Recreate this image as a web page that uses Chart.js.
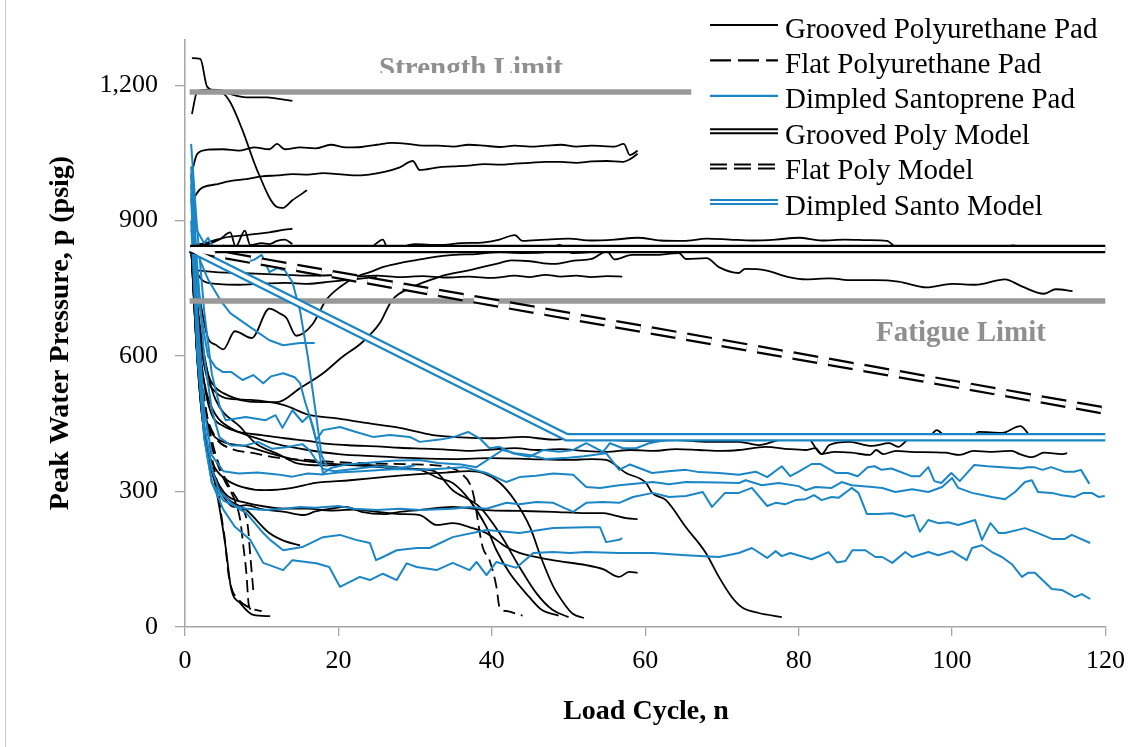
<!DOCTYPE html>
<html>
<head>
<meta charset="utf-8">
<script src="https://cdn.jsdelivr.net/npm/chart.js@4.4.1/dist/chart.umd.min.js"></script>
<style>
  body { margin: 0; background: #fff; }
  canvas { display: block; }
</style>
</head>
<body>
<canvas id="chart" width="1135" height="747"></canvas>
<script>
// Tick labels
const xTicks = [0, 20, 40, 60, 80, 100, 120];
const yTicks = [0, 300, 600, 900, 1200];

const legendLabels = ['Grooved Polyurethane Pad', 'Flat Polyurethane Pad', 'Dimpled Santoprene Pad',
                      'Grooved Poly Model', 'Flat Poly Model', 'Dimpled Santo Model'];

// Reference limits and models  [cycle, psig]
const strengthLimit = [[0.6, 1185], [66, 1185]];
const fatigueLimit = [[0.6, 722], [120, 722]];
const groovedModel = [[0.7, 837], [120, 837]];
const flatModel = [[0.7, 837], [120, 479]];
const santoModel = [[0.7, 837], [49.8, 420], [120, 420]];

// Grooved polyurethane pad tests
const grooved01 = [[0.9,1260],[2,1258],[2.9,1196],[4.9,1182],[5.9,1162],[7.5,1100],[9.4,1012],[12,930],[12.7,928],[14,945],[15.9,967]];
const grooved02 = [[0.9,1136],[1.6,1186],[3,1190],[4.6,1189],[6,1180],[8,1173],[10.7,1173],[12,1170],[14,1165]];
const grooved03 = [[0.8,1000],[1.6,1048],[3,1057],[5,1058],[7,1055],[9,1062],[11,1058],[12,1070],[13,1058],[15,1062],[17,1060],[19,1068],[21,1062],[23,1063],[25,1068],[27,1072],[29,1070],[31,1066],[33,1066],[35,1064],[37,1068],[39,1066],[41,1063],[43,1066],[45,1064],[47,1066],[49,1068],[51,1064],[53,1066],[56,1064],[57.2,1070],[58,1045],[59,1055]];
const grooved04 = [[0.8,940],[2,970],[4,980],[6,988],[8,992],[10,998],[12,1000],[14,1003],[16,1002],[18,1005],[20,1003],[22,1000],[24,1002],[26,1008],[28,1018],[29.7,1032],[30.6,1012],[33,1018],[35,1020],[37,1022],[39,1025],[41,1024],[43,1026],[45,1028],[47,1030],[49,1030],[51,1028],[53,1031],[55,1032],[57,1030],[58,1036],[59,1048]];
const grooved05 = [[1,845],[3,852],[5,862],[7,866],[9,870],[11,874],[13,880],[14,882]];
const grooved06 = [[1.5,845],[3,848],[4.5,858],[5.9,874],[6.6,842],[7.8,878],[8.5,846],[10,850],[11,848],[12,855],[13,858],[14,848]];
const grooved07 = [[0.8,845],[3,838],[6,836],[9,834],[12,836],[15,838],[18,840],[21,842],[24,840],[25.8,858],[26.5,835],[30,848],[33,846],[36,850],[39,852],[41,858],[43,868],[44,855],[47,858],[50,860],[53,856],[56,858],[59,862],[62,856],[65,855],[68,860],[71,858],[74,856],[77,858],[80,862],[83,856],[86,858],[89,857],[91.5,855],[93,838],[96,840],[99,836],[102,838],[105,834],[108,838],[111,832],[114,834],[116.6,830]];
const grooved08 = [[0.8,845],[2,650],[3,560],[4,530],[5,518],[8,500],[10,498],[12,498],[15,529],[18,562],[20.5,598],[23,629],[25.4,673],[27,724],[29.7,753],[31.9,768],[34,780],[37,790],[39,798],[41,806],[42.5,812],[45,810],[48,804],[51,812],[53,815],[55,832],[56,814],[58.3,824],[61,824],[64.4,828],[65.3,815],[68,817],[69.6,797],[72.2,784],[73,793],[75.7,790],[78.7,775],[81,770],[84,772],[87,768],[90,768],[93,765],[96.7,752],[100,760],[103,758],[106.9,770],[109,755],[112,738],[113.5,748],[115.7,744]];
const grooved09 = [[1.5,790],[4,786],[7,784],[10,782],[13,780],[16,778],[19,779],[22,776],[25,778],[28,775],[31,777],[34,774],[37,776],[40,773],[43,778],[45,775],[47,780],[49,776],[51,778],[53,775],[55,777],[57,776]];
const grooved10 = [[0.8,845],[1.5,790],[2.5,765],[4,760],[7,758],[10,760],[13,762],[16,760],[19,765],[22,770],[25,775]];
const grooved11 = [[0.8,845],[2,720],[3,640],[4,625],[5,615],[6.5,655],[8.7,640],[11,705],[12.3,695],[13.2,685],[14.5,645],[16.6,670],[18.4,724],[20.2,753],[22.3,775],[24.1,786],[26,798],[28,806],[30,812],[32,818],[35,824],[38,826],[41,830],[44,828],[47,830],[48.8,846],[50.5,828],[55,832],[60,830],[65,833],[70,830],[75,832],[80,834],[85,831],[90,833],[95,830],[100,832],[105,830],[108,845],[110,830],[113,832],[116.6,830]];
const grooved12 = [[0.8,845],[1.6,700],[2.3,600],[3,545],[4,520],[5.3,507],[8.5,503],[12.8,492],[16.3,469],[19.3,463],[23.6,452],[28,441],[32.3,425],[36,420],[40,418],[44,421],[48,415],[52,418],[56,414],[60,412],[64,414],[68,410],[72.2,410],[74.8,403],[77.4,414],[81,421],[83,383],[84,403],[86.6,410],[89.5,401],[91.8,407],[93,399],[94.4,416],[97,421],[98,436],[99.2,423],[102.6,423],[103.5,432],[106.5,430],[108.9,445],[110.4,421],[112.2,418],[113.9,423],[115.6,421],[119.1,416]];
const grooved13 = [[0.8,845],[1.8,640],[2.7,520],[3.5,470],[5,445],[7,432],[10,425],[13,418],[16,412],[19,405],[22,402],[25,400],[28,397],[31,395],[34,393],[37,390],[40,393],[43,396],[46,392],[49,394],[52,390],[55,388],[58,392],[61,390],[64,394],[67,392],[70,390],[72.2,392],[75.7,399],[78.7,394],[80.9,392],[82.2,396],[83,383],[84.7,388],[86.9,386],[89.3,381],[90.1,392],[91,383],[92.7,390],[94.5,388],[99.1,386],[101,381],[102.8,390],[104.9,388],[107.8,390],[108.8,383],[110.4,376],[112,386],[114.3,383],[115,385]];
const grooved14 = [[0.8,845],[1.8,620],[2.8,520],[4,470],[6,440],[9,420],[12,405],[16,392],[20,383],[25,378],[30,374],[35,372],[40,374],[45,372],[50,370],[53,372],[54.9,370],[57.5,341],[60.1,319],[60.9,297],[62.7,281],[65.3,221],[67.9,164],[69.6,111],[71.3,66],[72.6,44],[74.8,31],[77.8,22]];
const grooved15 = [[0.8,845],[1.6,600],[2.5,480],[3.5,430],[5,410],[8,400],[11,385],[14,372],[17,365],[20,360],[24,356],[27,352],[30.6,348],[33,330],[34.9,319],[37.1,281],[39.3,221],[40.6,170],[42.3,120],[44.9,66],[46.5,38],[48.7,25]];
const grooved16 = [[0.8,845],[2,660],[3,560],[4,503],[7.2,443],[9.2,407],[12.4,381],[14.5,363],[18,358],[22,360],[26,356],[30,350],[32.5,345],[34.9,303],[38.4,266],[41,208],[43.6,133],[45.8,75],[47.9,38],[50,22]];
const grooved17 = [[0.8,845],[1.5,620],[2.2,470],[3,390],[4,350],[5.5,325],[7.5,310],[10.5,303],[14,308],[17,319],[21.5,325],[25.8,332],[30,338],[34,342],[37,345],[39,340],[41,320],[43,280],[45,220],[46.5,150],[48,90],[49.5,50],[50.5,30],[52,20]];
const grooved18 = [[0.8,845],[1.5,650],[2,520],[2.7,420],[3.5,350],[4.5,305],[6.4,266],[8,270],[10,261],[13,255],[15.5,248],[17,256],[19,262],[21,266],[23,255],[26,250],[28,255],[30.6,259],[34.9,266],[39.3,259],[43.6,257],[48,255],[52.3,252],[54.5,252],[55.8,248],[57.5,241],[59,239]];
const grooved19 = [[0.8,845],[1.6,600],[2.3,460],[3,380],[4,330],[5,300],[6,285],[8,275],[10,268],[13,262],[16,262],[19,258],[22,260],[25,255],[28,250],[30.6,248],[32.8,226],[34.9,230],[37.5,219],[39.3,208],[41.9,177],[43.6,164],[47.9,148],[52.3,137],[54.5,128],[56.6,111],[57.9,122],[59,120]];
const grooved20 = [[0.8,845],[1.5,620],[2.2,470],[3,380],[4,320],[5.5,285],[8,259],[11,208],[13,190],[15,181]];
const grooved21 = [[0.8,845],[1.5,650],[2,520],[2.6,420],[3.3,360],[4,310],[5.3,177],[6,86],[7.2,53],[8.9,27],[11.1,24]];

// Flat polyurethane pad tests
const flat01 = [[0.8,845],[1.5,680],[2.2,540],[3,430],[3.8,350],[4.3,310],[4.7,252],[5.2,193],[5.6,126],[6,89],[7,60],[8.5,42],[10,35]];
const flat02 = [[0.8,845],[1.6,640],[2.4,500],[3.5,400],[5,330],[6.5,280],[7.2,237],[7.6,180],[8,120],[8.3,50],[8.6,38]];
const flat03 = [[0.8,845],[1.6,650],[2.5,510],[3.7,400],[5.5,320],[7.2,270],[8.2,221],[8.5,160],[8.9,82]];
const flat04 = [[0.8,845],[1.8,600],[2.7,480],[4,420],[6,395],[9,385],[12,375],[16,370],[20,365],[25,362],[30,360],[34,355],[36,340],[37.5,300],[38.8,177],[39.7,148],[40.6,89],[41,44],[42,35],[43.6,27],[44,25]];

// Dimpled santoprene pad tests
const santo01 = [[0.8,880],[1.3,850],[2,810],[3,770],[4.6,724],[5.9,695],[8.5,664],[11,635],[12.8,624],[15,629],[16.9,629]];
const santo02 = [[0.8,1000],[1.5,880],[2.5,850],[3,862],[4,830],[5,845],[6,838],[7,815],[8,808],[9,813],[10,824],[11,786],[12,795],[13,790],[14,764],[15,700],[16,600],[17,480],[17.8,380],[18.5,355]];
const santo03 = [[0.8,960],[1.8,720],[3,600],[4,575],[4.9,565],[6,565],[7.5,547],[8.9,558],[10.2,540],[11.2,555],[12.8,562],[14.3,553],[15,540],[15.7,496],[16.7,443],[17.6,376],[18,340],[19,352],[21,360],[24,364],[27,368],[30.6,370],[33,363],[36,360],[38,354],[41.4,392],[43,385],[44.9,381],[47,372],[50,375],[52,378],[54.9,385],[56.6,348],[58,360],[60.9,341],[63,345],[65.3,348],[67,343],[69.6,341],[72.2,337],[74.4,344],[75.9,332],[77.8,356],[78.9,334],[80,344],[81.7,361],[82.8,361],[84.9,341],[86.4,341],[87.7,334],[89,354],[89.9,356],[90.8,348],[92.1,351],[94.7,334],[95.8,334],[96.9,354],[97.7,323],[98.6,319],[99.9,341],[101,323],[102.9,359],[104.6,356],[109,351],[109.8,354],[110.7,354],[111.8,348],[112.9,354],[114.6,344],[115.9,344],[116.8,348],[117.9,317]];
const santo04 = [[0.8,1000],[1.6,700],[2.5,480],[3.5,380],[5,345],[7,340],[9.5,342],[12,338],[14,333],[16,340],[18,338],[20,342],[23,345],[26,348],[28,350],[30.6,348],[32.8,350],[36.3,354],[39.3,341],[41.9,321],[43.6,332],[45.8,335],[48,340],[50.6,337],[52.3,310],[54.1,308],[56.6,314],[61,321],[63.1,316],[65.3,321],[69.6,320],[72.2,319],[73.1,325],[75.2,314],[77.4,319],[80,312],[80.9,303],[82.2,310],[84.3,308],[85.6,321],[86.9,314],[89.6,310],[90.9,308],[92.6,299],[94.8,305],[96.9,299],[98.7,310],[100,330],[100.8,308],[102.6,297],[105.2,288],[106.9,283],[108.2,299],[109.5,321],[110.4,325],[111.2,299],[113,297],[114.3,292],[116,288],[117.1,297],[118.2,297],[119.1,288],[119.9,290]];
const santo05 = [[0.8,950],[1.6,650],[2.5,420],[3.5,320],[5,280],[6.5,268],[8,262],[10.5,259],[12.8,262],[15,266],[17,264],[20,268],[22,262],[25,259],[28,262],[30.6,259],[34.9,262],[37.1,266],[39.3,262],[41.9,275],[43.6,272],[45.8,277],[48,275],[50.6,255],[52.3,275],[54.5,277],[56.6,275],[58.4,288],[61,297],[63.1,288],[65.3,290],[67.5,299],[68.7,266],[70.4,297],[72.2,297],[73.9,308],[75.9,268],[77,275],[78.3,272],[79.6,281],[80.9,283],[82,292],[83,281],[84.3,288],[85.2,286],[86.9,308],[87.8,297],[88.9,250],[90.4,250],[92.2,252],[93.9,244],[95,248],[95.8,211],[96.9,237],[98.2,230],[99.5,232],[100.8,226],[103,237],[103.9,193],[105,230],[106.1,208],[106.9,208],[109.5,219],[111.2,208],[113,195],[114.7,195],[115.6,204],[118,186]];
const santo06 = [[0.8,900],[1.6,600],[2.5,420],[3.5,320],[5,260],[6.5,222],[8.5,193],[10.2,142],[12.8,126],[14,148],[17.1,141],[18.8,133],[20.2,89],[21.5,100],[22.8,111],[24.1,104],[25.8,118],[27.6,104],[28.9,141],[30.2,133],[32.8,126],[34.9,142],[37.1,126],[38,144],[39.3,115],[40.6,144],[43.2,131],[45.4,164],[48,166],[50.2,164],[52.3,166],[56.6,164],[61,164],[65.3,159],[69.6,155],[72.2,164],[73.9,175],[75.9,153],[77,168],[77.8,157],[78.9,164],[81.7,150],[83.9,166],[85,143],[86.1,146],[87,170],[88.7,170],[90,155],[90.9,155],[92.2,142],[93.9,166],[94.8,155],[96.9,166],[98.2,159],[100,168],[101.9,148],[102.6,175],[103.9,181],[105.2,166],[106.5,155],[107.8,139],[109.1,111],[109.9,120],[110.8,120],[113,84],[114.3,82],[116,66],[116.9,73],[118,62]];
const santo07 = [[0.8,980],[1.6,650],[2.5,450],[3.5,350],[4.5,300],[6,275],[7,262],[8,252],[10.2,208],[11.1,193],[12.8,170],[15.3,177],[18,199],[20.2,204],[22.3,193],[24.1,186],[24.9,148],[25.8,155],[27.6,170],[30.2,175],[31.9,175],[34.9,199],[39.3,215],[43.6,208],[48,219],[52.3,221],[54.1,221],[54.9,188],[56.6,193],[57,197]];
const santo08 = [[0.8,1070],[1.5,900],[2.5,700],[3.5,560],[4.5,490],[5.3,458],[7.9,465],[10.5,458],[11.8,469],[12.7,441],[14,480],[15.3,454],[16.2,469],[17.1,414],[18,436],[20.2,443],[22.3,432],[24.5,421],[26.7,425],[29.3,421],[30.6,410],[33.2,415],[34.9,420],[36.9,432],[38.4,418],[39.7,396],[41,399],[42.7,385],[44.9,377],[46.7,392],[48.8,388],[50.6,392],[52.3,407],[54.5,388],[55.4,407],[57.1,396],[58.8,396],[60.5,407],[63,415],[65,420]];
const santo09 = [[0.8,1020],[1.6,800],[2.5,600],[3.5,480],[4.5,420],[6,402],[7.9,402],[9.5,410],[11.3,395],[13.2,398],[15.3,405],[16.2,392],[17,372],[18,350],[19.5,345],[22,350],[25,356],[28,352],[30,358]];

const groovedPads = [grooved01, grooved02, grooved03, grooved04, grooved05, grooved06, grooved07,
  grooved08, grooved09, grooved10, grooved11, grooved12, grooved13, grooved14, grooved15,
  grooved16, grooved17, grooved18, grooved19, grooved20, grooved21];
const flatPads = [flat01, flat02, flat03, flat04];
const santoPads = [santo01, santo02, santo03, santo04, santo05, santo06, santo07, santo08, santo09];

const BLACK = '#000000';
const BLUE = '#1b86c6';
const GRAY = '#999999';
const FONT = '"Liberation Serif", "Times New Roman", serif';

function series(arr, color, width, order, dash, smooth) {
    return {
        data: arr.map(([x, y]) => ({ x, y })),
        borderColor: color,
        borderWidth: width,
        borderDash: dash || [],
        showLine: true,
        pointRadius: 0,
        fill: false,
        order: order,
        cubicInterpolationMode: smooth ? 'monotone' : 'default',
        borderCapStyle: 'butt',
        borderJoinStyle: 'round'
    };
}

const datasets = [];
groovedPads.forEach(s => datasets.push(series(s, BLACK, 1.8, 6, null, true)));
flatPads.forEach(s => datasets.push(series(s, BLACK, 1.8, 5, [12, 6], true)));
santoPads.forEach(s => datasets.push(series(s, BLUE, 2, 4)));
datasets.push(series(strengthLimit, GRAY, 5.5, 3));
datasets.push(series(fatigueLimit, GRAY, 5.5, 3));
// double (compound) model lines: wide stroke with a white core
datasets.push(series(groovedModel, BLACK, 8.5, 2));
datasets.push(series(flatModel, BLACK, 8.5, 2, [25, 11]));
datasets.push(series(santoModel, BLUE, 8.5, 2));
datasets.push(series(groovedModel, '#ffffff', 4, 1));
datasets.push(series(flatModel, '#ffffff', 4, 1, [25, 11]));
datasets.push(series(santoModel, '#ffffff', 4, 1));

// Labels, legend, axis titles
const decor = {
    id: 'decor',
    afterDraw(chart) {
        const ctx = chart.ctx;
        ctx.save();

        ctx.strokeStyle = '#cccccc';
        ctx.lineWidth = 1;
        ctx.beginPath();
        ctx.moveTo(5.5, 0);
        ctx.lineTo(5.5, 747);
        ctx.stroke();

        ctx.fillStyle = '#8f8f8f';
        ctx.font = 'bold 29px ' + FONT;
        ctx.textAlign = 'center';
        ctx.save();
        ctx.beginPath();
        ctx.rect(0, 0, 1135, 73);
        ctx.clip();
        ctx.textBaseline = 'alphabetic';
        ctx.fillText('Strength Limit', 471, 77);
        ctx.restore();
        ctx.textBaseline = 'middle';
        ctx.fillText('Fatigue Limit', 961, 334);

        ctx.fillStyle = BLACK;
        ctx.font = 'bold 28px ' + FONT;
        ctx.fillText('Load Cycle, n', 646, 712);
        ctx.save();
        ctx.translate(61, 333);
        ctx.rotate(-Math.PI / 2);
        ctx.fillText('Peak Water Pressure, p (psig)', 0, 0);
        ctx.restore();

        const styles = [
            { color: BLACK, dash: [] },
            { color: BLACK, dash: [21, 7] },
            { color: BLUE, dash: [] },
            { color: BLACK, dash: [], double: true },
            { color: BLACK, dash: [17, 7], double: true },
            { color: BLUE, dash: [], double: true }
        ];
        ctx.font = '29px ' + FONT;
        ctx.textAlign = 'left';
        ctx.textBaseline = 'middle';
        legendLabels.forEach((label, i) => {
            const y = 25 + i * 35.4;
            const st = styles[i];
            ctx.setLineDash(st.dash);
            ctx.lineCap = 'butt';
            ctx.strokeStyle = st.color;
            ctx.lineWidth = st.double ? 6 : 2.2;
            ctx.beginPath();
            ctx.moveTo(710, y);
            ctx.lineTo(778, y);
            ctx.stroke();
            if (st.double) {
                ctx.strokeStyle = '#ffffff';
                ctx.lineWidth = 2;
                ctx.beginPath();
                ctx.moveTo(710, y);
                ctx.lineTo(778, y);
                ctx.stroke();
            }
            ctx.setLineDash([]);
            ctx.fillStyle = BLACK;
            ctx.fillText(label, 785, y + 5);
        });
        ctx.restore();
    }
};

new Chart(document.getElementById('chart'), {
    type: 'scatter',
    data: { datasets },
    options: {
        responsive: false,
        animation: false,
        events: [],
        layout: { padding: { top: 40, right: 28, left: 0, bottom: 0 } },
        plugins: { legend: { display: false }, tooltip: { enabled: false } },
        scales: {
            x: {
                type: 'linear',
                min: 0,
                max: 120,
                afterFit: s => { s.height = 120; },
                afterBuildTicks: s => { s.ticks = xTicks.map(v => ({ value: v })); },
                ticks: { color: BLACK, font: { family: FONT, size: 26 }, padding: 10, maxRotation: 0 },
                grid: { drawOnChartArea: false, drawTicks: true, tickLength: 9, color: '#a6a6a6', lineWidth: 1.3 },
                border: { display: true, color: '#a6a6a6', width: 1.5 }
            },
            y: {
                type: 'linear',
                min: 0,
                max: 1300,
                afterFit: s => { s.width = 185; },
                afterBuildTicks: s => { s.ticks = yTicks.map(v => ({ value: v })); },
                ticks: {
                    color: BLACK,
                    font: { family: FONT, size: 26 },
                    padding: 17,
                    callback: v => v.toLocaleString('en-US')
                },
                grid: { drawOnChartArea: false, drawTicks: true, tickLength: 10, color: '#a6a6a6', lineWidth: 1.3 },
                border: { display: true, color: '#a6a6a6', width: 1.5 }
            }
        }
    },
    plugins: [decor]
});
</script>
</body>
</html>
